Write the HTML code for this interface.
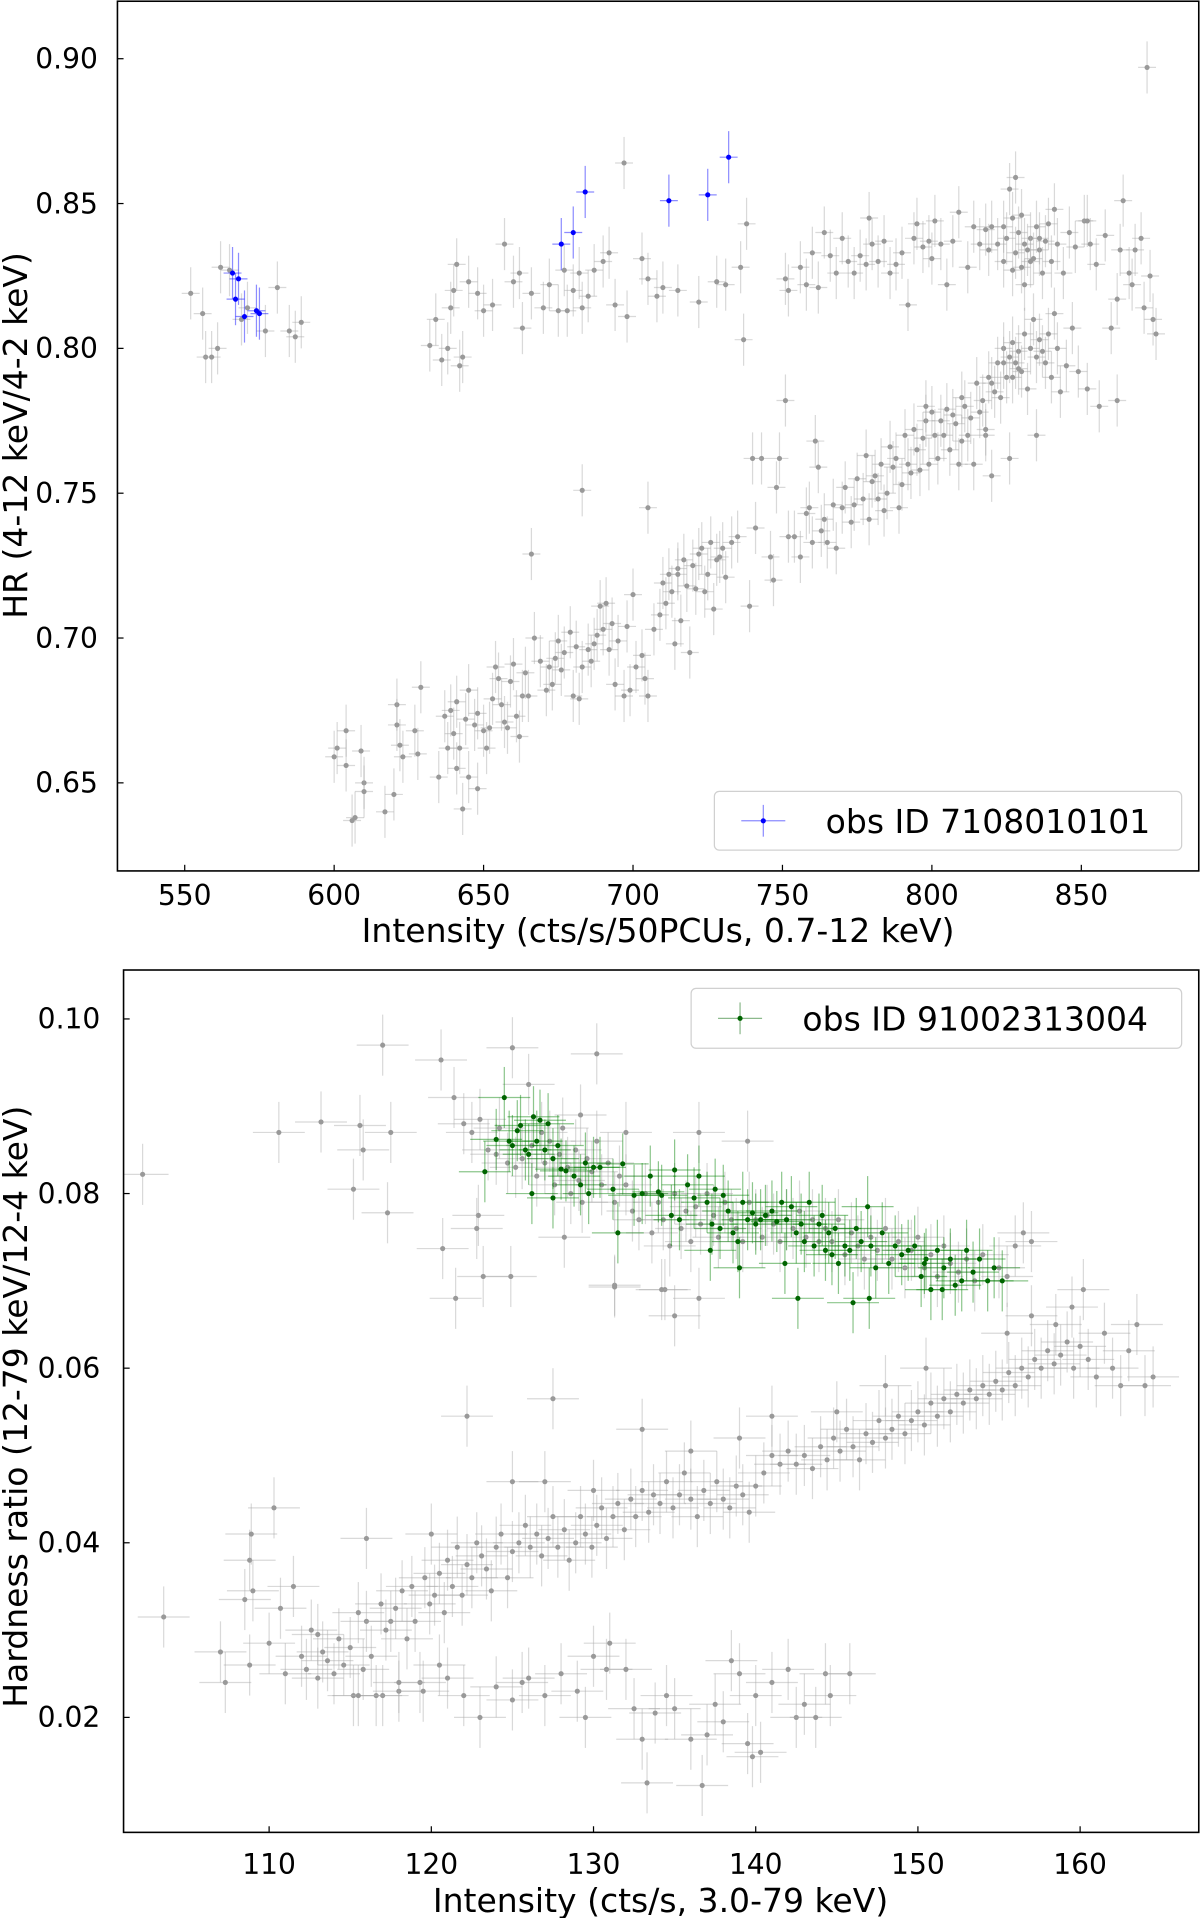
<!DOCTYPE html>
<html><head><meta charset="utf-8"><style>
html,body{margin:0;padding:0;background:#fff;}
svg{display:block;font-family:"DejaVu Sans","Liberation Sans",sans-serif;}
</style></head><body>
<svg id="fig" width="1200" height="1918" viewBox="0 0 981 1568" xmlns="http://www.w3.org/2000/svg">
<defs>
<clipPath id="clipTop"><rect x="96" y="1" width="884" height="711"/></clipPath>
<clipPath id="clipBot"><rect x="101" y="793" width="879" height="705"/></clipPath>
</defs>
<g id="topMarks" clip-path="url(#clipTop)"></g>
<g id="botMarks" clip-path="url(#clipBot)"></g>
<g id="axes"></g>
</svg>
<script>
const topXTicks=[550,600,650,700,750,800,850];
const topYTicks=[0.65,0.70,0.75,0.80,0.85,0.90];
const botXTicks=[110,120,130,140,150,160];
const botYTicks=[0.02,0.04,0.06,0.08,0.10];
const topBlue=[[566,.826],[568,.824],[567,.817],[570,.811],[574,.813],[575,.812],[676,.836],[680,.840],[684,.854],[712,.851],[725,.853],[732,.866]];
const topGray=[[552,.819],[556,.812],[557,.797],[562,.828],[561,.800],[565,.827],[569,.810],[571,.814],[577,.806],[581,.821],[585,.806],[587,.804],[589,.809],[559,.797],
[632,.801],[634,.810],[636,.796],[638,.800],[639,.814],[640,.820],[641,.829],[642,.794],[643,.797],[645,.823],[648,.819],[650,.813],[653,.815],[657,.836],[660,.823],[662,.826],[663,.807],[666,.819],[670,.814],[672,.822],[675,.813],[677,.827],[678,.813],[680,.820],[682,.826],[683,.814],[685,.818],[687,.827],[690,.830],[692,.833],[694,.815],[697,.864],[698,.811],[703,.831],[705,.824],[708,.818],[710,.821],[715,.820],[722,.816],[728,.823],[731,.822],[736,.828],[737,.803],[738,.843],
[751,.824],[752,.820],[756,.828],[758,.822],[760,.833],[762,.821],[764,.840],[766,.832],[768,.826],[770,.838],[772,.830],[774,.826],[776,.832],[778,.829],[779,.845],[780,.836],[782,.830],[784,.837],[786,.826],[788,.829],[790,.833],[792,.815],[794,.838],[795,.843],[797,.835],[799,.837],[800,.831],[801,.844],[803,.836],[805,.822],[807,.837],[809,.847],[812,.828],[814,.842],[816,.836],[818,.841],[819,.834],[820,.842],[822,.836],[824,.842],[825,.838],[826,.855],[827,.845],[828,.833],[828,.859],[829,.840],[830,.828],[831,.836],[832,.834],[833,.838],[834,.831],[835,.842],[836,.834],[837,.826],[838,.837],[839,.843],[840,.830],[841,.848],[842,.836],[844,.826],[846,.840],[848,.835],[851,.844],[853,.836],[855,.829],[858,.839],[862,.817],[863,.834],[864,.851],[866,.826],[867,.822],[868,.834],[870,.838],[871,.814],[873,.825],[874,.810],[875,.805],[872,.897],[852,.844],[830,.846],[833,.830],[836,.838],[827,.827],[831,.822],[824,.830],
[600,.659],[601,.662],[604,.668],[604,.656],[606,.637],[607,.638],[609,.661],[610,.650],[610,.647],[617,.640],[620,.646],[621,.677],[621,.670],[622,.663],[623,.659],[627,.668],[628,.660],[629,.683],[635,.652],[637,.673],[638,.662],[639,.675],[640,.667],[641,.655],[641,.678],[642,.662],[643,.641],[644,.672],[645,.652],[645,.682],[647,.670],[648,.648],[648,.674],[650,.668],[651,.662],[652,.669],[653,.679],[654,.690],[655,.686],[656,.677],[657,.671],[658,.669],[659,.685],[660,.691],[661,.673],[662,.666],[663,.680],[664,.688],[665,.680],[667,.700],[669,.692],[671,.682],[672,.690],[673,.684],[674,.693],[675,.699],[676,.689],[677,.695],[679,.702],[680,.680],[681,.697],[682,.679],[683,.690],[685,.696],[686,.692],[687,.698],[688,.701],[689,.711],[690,.703],[691,.712],[692,.696],[693,.705],[694,.684],[695,.699],[697,.680],[698,.704],[699,.682],[700,.715],[701,.690],[703,.694],[704,.686],[705,.680],[707,.703],[709,.708],[710,.719],[711,.712],[712,.722],[713,.716],[714,.698],[715,.724],[716,.706],[717,.727],[718,.718],[719,.695],[720,.725],[721,.717],[722,.729],[723,.731],[724,.716],[725,.722],[726,.733],[727,.710],[728,.727],[729,.728],[730,.731],[731,.721],[733,.733],[735,.735],[739,.711],[741,.738],[743,.762],[746,.728],[747,.720],[748,.752],[749,.762],[751,.782],[752,.735],[754,.735],[756,.728],[758,.743],[759,.745],[760,.733],[761,.768],[762,.759],[763,.737],[764,.741],[765,.733],[767,.746],[768,.731],[770,.745],[771,.752],[773,.740],[774,.746],[775,.755],[777,.748],[778,.763],[779,.741],[780,.754],[781,.756],[782,.748],[783,.760],[784,.744],[785,.750],[786,.766],[787,.759],[788,.762],[789,.745],[790,.753],[791,.770],[792,.760],[793,.757],[794,.772],[795,.765],[796,.758],[797,.769],[798,.775],[799,.760],[800,.778],[801,.770],[802,.762],[803,.775],[804,.770],[805,.779],[806,.765],[807,.777],[808,.774],[809,.760],[810,.783],[811,.780],[812,.770],[813,.776],[814,.760],[815,.788],[816,.778],[817,.782],[818,.770],[819,.790],[820,.788],[821,.785],[822,.795],[823,.783],[824,.800],[825,.790],[826,.797],[827,.802],[828,.795],[829,.799],[830,.792],[831,.805],[832,.786],[833,.800],[834,.810],[835,.797],[836,.803],[837,.799],[838,.795],[839,.805],[840,.790],[841,.812],[842,.800],[843,.785],[845,.794],[847,.807],[849,.792],[852,.786],[856,.780],[860,.807],[862,.782],[666,.729],[683,.751],[705,.745],[715,.722],[740,.762],[820,.756],[826,.762],[835,.770],[810,.768],[798,.780],[818,.772],[824,.795],[827,.790],[829,.793]];
const botGreen=[[123.3,.0825],[124,.0862],[124.5,.091],[124.8,.0860],[125,.0855],[125.3,.0872],[125.5,.0878],[125.8,.0850],[126,.0845],[126.3,.0888],[126.5,.0860],[126.7,.0884],[127,.0850],[127.2,.0880],[127.5,.0840],[127.8,.0855],[128,.0828],[128.3,.0826],[128.8,.0820],[129.2,.0810],[129.5,.0835],[130,.0830],[130.4,.0830],[131.2,.0805],[131.8,.0834],[132.5,.0798],[133,.0800],[133.5,.0820],[134,.0802],[134.2,.0798],[134.8,.0775],[135,.0827],[135.3,.0770],[135.8,.0810],[136.2,.0795],[136.5,.0820],[137,.0790],[137.3,.0765],[137.5,.0805],[137.8,.0760],[138,.0798],[138.3,.0780],[138.6,.0755],[138.9,.0745],[139.2,.0790],[139.5,.0770],[139.8,.0778],[140,.0765],[140.3,.0770],[140.6,.0775],[141,.0780],[141.3,.0768],[141.6,.0790],[141.9,.0770],[142.2,.0785],[142.5,.0755],[142.8,.0765],[143,.0745],[143.3,.0790],[143.6,.0740],[143.9,.0765],[144.1,.0775],[144.3,.0735],[144.5,.0755],[144.7,.0730],[144.9,.0760],[145.1,.0720],[145.5,.0740],[145.8,.0735],[146.2,.0760],[146.5,.0745],[146.9,.0785],[147.1,.0740],[147.4,.0715],[147.8,.0755],[148.2,.0720],[148.6,.0740],[149,.0730],[149.4,.0735],[149.8,.0740],[150.2,.0705],[150.5,.0725],[150.8,.0690],[151.2,.0735],[151.6,.0715],[152,.0725],[152.3,.0695],[152.7,.0700],[153,.0735],[153.4,.0710],[153.8,.0725],[154.3,.0700],[154.7,.0715],[155.2,.0700],[146,.0675],[147,.0680],[142.6,.0680],[139,.0715],[137.2,.0735],[141.8,.0720],[150.4,.0720],[151.5,.0690],[126.2,.0800],[127.5,.0795],[129.7,.0800],[131.5,.0755]];
const botGray=[[122.5,.087],[123,.0885],[123.5,.085],[124,.0845],[124.2,.0875],[124.7,.0835],[125,.0967],[125.2,.0830],[125.6,.0840],[126,.0925],[126.2,.0855],[126.5,.0820],[126.8,.0870],[127,.0835],[127.3,.0860],[127.6,.0810],[127.9,.0845],[128.1,.0875],[128.4,.0830],[128.6,.0800],[128.9,.0850],[129.1,.0815],[129.3,.0790],[129.6,.0840],[129.9,.0825],[130.2,.0860],[130.5,.0810],[130.9,.0835],[131.3,.0790],[131.6,.0820],[132,.0810],[132.4,.0780],[132.8,.0770],[133.2,.0800],[133.6,.0755],[134,.0790],[134.3,.0770],[134.7,.0740],[135,.0800],[135.4,.0760],[135.7,.0780],[136,.0745],[136.3,.0785],[136.6,.0765],[137,.0800],[137.4,.0775],[137.7,.0750],[138.1,.0790],[138.5,.0770],[138.8,.0760],[139.2,.0745],[139.6,.0790],[140,.0770],[140.4,.0750],[140.7,.0775],[141.1,.0765],[141.5,.0745],[141.9,.0770],[142.3,.0760],[142.7,.0780],[143.1,.0750],[143.5,.0770],[143.9,.0745],[144.3,.0760],[144.7,.0745],[145.1,.0770],[145.5,.0730],[145.9,.0755],[146.3,.0740],[146.7,.0725],[147.1,.0750],[147.5,.0735],[148,.0760],[148.4,.0725],[148.8,.0745],[149.2,.0715],[149.6,.0735],[150,.0750],[150.4,.0715],[150.8,.0730],[151.2,.0705],[151.6,.0740],[152,.0720],[152.5,.0710],[153,.0725],[153.5,.0700],[154,.0730],[155,.0715],[156,.0740],[156.5,.0755],[157,.0745],[155.5,.0705],[134.4,.0690],[136.5,.0680],[131.3,.0695],[124.9,.0705],[122.9,.0775],[128.2,.0750],[120.6,.0953],[121.4,.0910],[130.2,.0960],[129.2,.0890],[132,.0870],[136.5,.0870],[139.5,.0860],
[107,.0275],[107.3,.024],[108.5,.0335],[108.8,.026],[109,.0345],[108.8,.038],[108.9,.041],[110,.0285],[110.7,.0325],[111,.025],[111.5,.0350],[112,.0270],[112.3,.0255],[112.6,.0300],[113,.0295],[113.3,.0275],[113.6,.0265],[114,.0250],[114.3,.0290],[114.6,.0260],[115,.0280],[115.2,.0225],[115.5,.0320],[115.8,.0255],[116,.0310],[116.3,.0270],[116.6,.0225],[116.9,.0330],[117.2,.0300],[117.5,.0310],[117.8,.0325],[118,.0230],[118.2,.0345],[118.5,.0290],[118.8,.0350],[119,.0310],[119.3,.0240],[119.6,.0360],[119.9,.0330],[120.2,.0340],[120.5,.0365],[120.8,.0320],[121,.0380],[121.3,.0350],[121.6,.0395],[121.9,.0340],[122.2,.0375],[122.5,.0360],[122.8,.0400],[123.1,.0385],[123.4,.0370],[123.7,.0345],[124,.0395],[124.3,.0410],[124.7,.0360],[125,.0390],[125.4,.0400],[125.8,.0420],[126.1,.0395],[126.5,.0410],[126.8,.0385],[127.2,.0405],[127.5,.0430],[127.8,.0395],[128.2,.0415],[128.5,.0380],[128.9,.0400],[129.2,.0430],[129.5,.0410],[129.9,.0395],[130.2,.0420],[130.5,.0440],[130.8,.0405],[131.2,.0430],[131.5,.0445],[131.9,.0415],[132.3,.0450],[132.6,.0430],[133,.0460],[133.4,.0435],[133.7,.0455],[134.1,.0445],[134.5,.0470],[134.9,.0440],[135.3,.0455],[135.6,.0480],[136,.0450],[136.4,.0430],[136.8,.0460],[137.2,.0445],[137.6,.0470],[138,.0450],[138.4,.0440],[138.8,.0465],[139.2,.0455],[139.6,.0435],[140,.0465],[140.5,.0480],[141,.0500],[141.5,.0490],[142,.0505],[142.5,.0490],[143,.0500],[143.5,.0485],[144,.0510],[144.4,.0495],[144.8,.0520],[145.2,.0505],[145.6,.0530],[146,.0510],[146.4,.0495],[146.8,.0525],[147.2,.0515],[147.6,.0540],[148,.0520],[148.4,.0530],[148.8,.0545],[149.2,.0525],[149.6,.0540],[150,.0550],[150.4,.0535],[150.8,.0560],[151.2,.0545],[151.6,.0565],[152,.0550],[152.4,.0570],[152.8,.0560],[153.2,.0575],[153.6,.0565],[154,.0580],[154.4,.0570],[154.8,.0585],[155.2,.0575],[155.6,.0595],[156,.0580],[156.4,.0600],[156.8,.0590],[157.2,.0610],[157.6,.0600],[158,.0620],[158.4,.0605],[158.8,.0615],[159.2,.0630],[159.6,.0600],[160,.0625],[160.5,.0610],[161,.0590],[161.5,.0640],[162,.0600],[162.5,.0580],[163,.0620],[163.5,.0650],[164,.0580],[164.5,.0590],[158.5,.0650],[159.5,.0670],[160.2,.0690],[157,.0660],[155.5,.0640],[150.5,.0600],[148,.0580],[145,.0550],[141,.0545],[139,.0520],[136,.0505],[133,.0530],[130,.0460],[127,.0470],[125,.0470],[122.2,.0545],[127.5,.0565],[120,.0410],[116,.0405],[110.3,.0440],[103.5,.0315],[102.2,.0822],[110.6,.0870],[113.2,.0882],[115.6,.0878],[115.8,.0850],[117,.0970],[117.5,.0870],[115.2,.0805],[117.3,.0778],[120.7,.0737],[121.5,.0680],[122,.0880],[122.8,.0760],[123.2,.0705],[131.3,.0693],[135,.0660],[134.2,.0690],
[121,.0245],[122,.0225],[123,.0200],[124,.0235],[125,.0220],[126,.0245],[127,.0225],[128,.0250],[129,.0230],[129.5,.0200],[130,.0270],[130.8,.0255],[131,.0285],[132,.0255],[132.5,.0210],[133,.0175],[133.3,.0125],[133.8,.0205],[134.5,.0225],[135,.0210],[136,.0175],[136.7,.0122],[137,.0180],[137.5,.0215],[138,.0195],[138.5,.0265],[139,.0250],[139.5,.0170],[139.8,.0155],[140,.0225],[140.3,.0160],[141,.0240],[142,.0255],[142.5,.0200],[143,.0215],[143.7,.0200],[144.3,.0250],[144.6,.0225],[145.8,.0250],[119.5,.0230],[118,.0240],[117,.0225],[120.5,.0260],[113,.0245],[115.5,.0225],[125.6,.0240]];

const NS='http://www.w3.org/2000/svg';
function mk(tag,attrs,parent){const e=document.createElementNS(NS,tag);for(const k in attrs)e.setAttribute(k,attrs[k]);parent.appendChild(e);return e;}
const tx=v=>151+(v-550)*2.4433, ty=v=>48+(0.90-v)*2368;
const bx=v=>220+(v-110)*13.26, by=v=>833+(0.10-v)*7137.5;

function drawPts(g,pts,fx,fy,ex,ey,col,ecol,eop,name){
  pts.forEach(p=>{
    const x=fx(p[0]),y=fy(p[1]);
    const grp=mk('g',{},g);
    
    
    mk('line',{x1:fx(p[0]-ex),x2:fx(p[0]+ex),y1:y,y2:y,stroke:ecol,'stroke-opacity':eop,'stroke-width':1},grp);
    mk('line',{x1:x,x2:x,y1:fy(p[1]-ey),y2:fy(p[1]+ey),stroke:ecol,'stroke-opacity':eop,'stroke-width':1},grp);
    mk('circle',{cx:x,cy:y,r:2.1,fill:col},grp);
  });
}
const tg=document.getElementById('topMarks'), bg=document.getElementById('botMarks');
drawPts(tg,topGray,tx,ty,3,0.009,'#999','#aaa',0.45,'gray-point');
drawPts(tg,topBlue,tx,ty,3,0.009,'#0000ff','#0000ff',0.45,'blue-point');
drawPts(bg,botGray,bx,by,1.6,0.0035,'#999','#aaa',0.45,'gray-point');
drawPts(bg,botGreen,bx,by,1.6,0.0035,'#006400','#008000',0.45,'green-point');

const ax=document.getElementById('axes');
function frame(x0,y0,x1,y1,name){const r=mk('rect',{x:x0,y:y0,width:x1-x0,height:y1-y0,fill:'none',stroke:'#000','stroke-width':1.3},ax);}
function text(x,y,s,sz,anchor,name,rot){const t=mk('text',{x:x,y:y,'font-size':sz,'text-anchor':anchor,fill:'#000'},ax);if(rot)t.setAttribute('transform','rotate(-90 '+x+' '+y+')');t.textContent=s;return t;}
frame(96,1,980,712,'top-axes-frame');
frame(101,793,980,1498,'bottom-axes-frame');
topXTicks.forEach(v=>{const x=tx(v);mk('line',{x1:x,x2:x,y1:712,y2:707,stroke:'#000'},ax);text(x,740,String(v),23,'middle','x-tick-label');});
topYTicks.forEach(v=>{const y=ty(v);mk('line',{x1:96,x2:101,y1:y,y2:y,stroke:'#000'},ax);text(80,y+8,v.toFixed(2),23,'end','y-tick-label');});
botXTicks.forEach(v=>{const x=bx(v);mk('line',{x1:x,x2:x,y1:1498,y2:1493,stroke:'#000'},ax);text(x,1532,String(v),23,'middle','x-tick-label');});
botYTicks.forEach(v=>{const y=by(v);mk('line',{x1:101,x2:106,y1:y,y2:y,stroke:'#000'},ax);text(82,y+8,v.toFixed(2),23,'end','y-tick-label');});
text(538,770,'Intensity (cts/s/50PCUs, 0.7-12 keV)',27,'middle','top-x-axis-title');
text(22,356,'HR (4-12 keV/4-2 keV)',27,'middle','top-y-axis-title',true);
text(540,1563,'Intensity (cts/s, 3.0-79 keV)',27,'middle','bottom-x-axis-title');
text(22,1150,'Hardness ratio (12-79 keV/12-4 keV)',27,'middle','bottom-y-axis-title',true);

function legend(x0,y0,x1,y1,mx,col,label,name){
  const g=mk('g',{},ax);
  
  
  mk('rect',{x:x0,y:y0,width:x1-x0,height:y1-y0,rx:4,fill:'#fff','fill-opacity':0.8,stroke:'#d0d0d0'},g);
  const my=(y0+y1)/2;
  mk('line',{x1:mx-18,x2:mx+18,y1:my,y2:my,stroke:col,'stroke-opacity':0.45},g);
  mk('line',{x1:mx,x2:mx,y1:my-13,y2:my+13,stroke:col,'stroke-opacity':0.45},g);
  mk('circle',{cx:mx,cy:my,r:2.1,fill:col},g);
  const t=mk('text',{x:mx+51,y:my+10,'font-size':27,fill:'#000'},g);t.textContent=label;
}
legend(584,647,966,695,624,'#0000ff','obs ID 7108010101','top-legend');
legend(565,808,966,857,605,'#006400','obs ID 91002313004','bottom-legend');
</script>
</body></html>
